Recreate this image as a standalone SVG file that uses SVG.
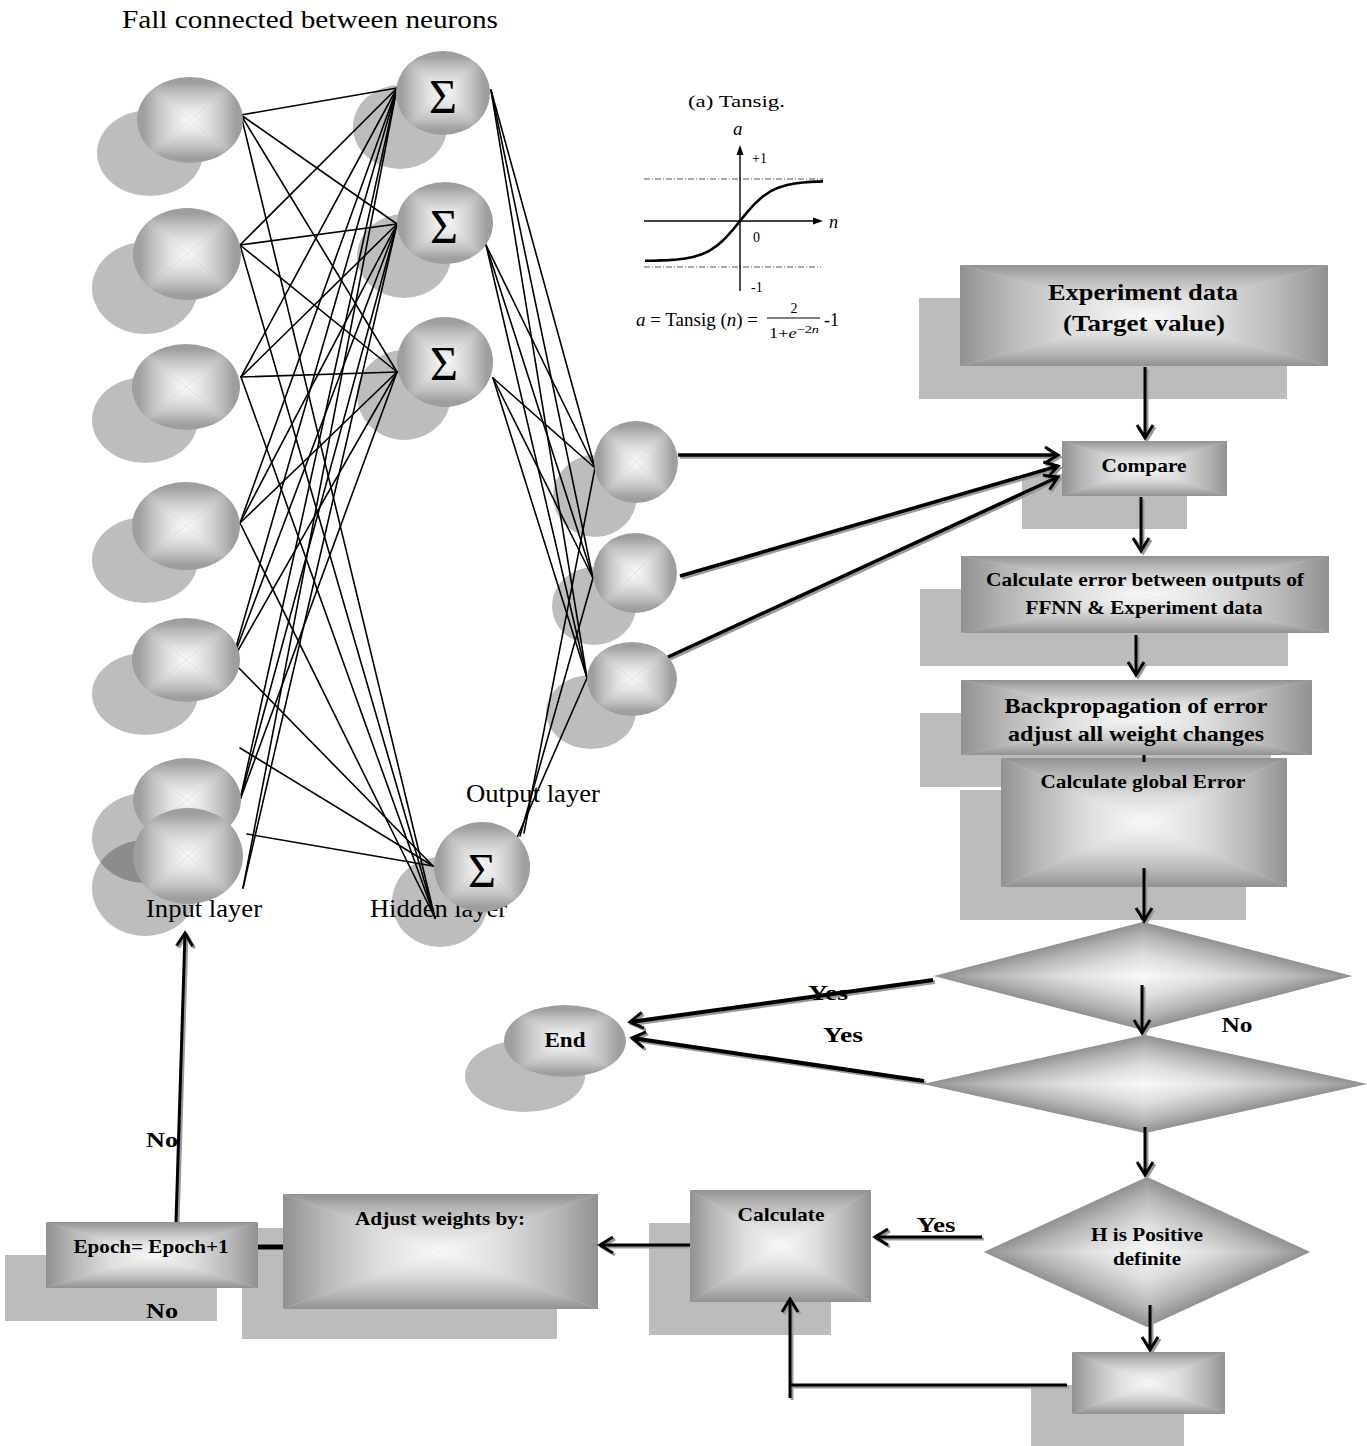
<svg xmlns="http://www.w3.org/2000/svg" width="1367" height="1446" viewBox="0 0 1367 1446">
<style>
.t{font-family:"Liberation Serif","Times New Roman",serif;fill:#000}
.b{font-weight:bold}
.sh{fill:#000;fill-opacity:.26}
.bs{fill:#bcbcbc}
.net line{stroke:#000;stroke-width:1.6;stroke-linecap:round}
.ar{stroke:#000;stroke-width:3;fill:none}
.as{stroke:#9a9a9a;stroke-width:3;fill:none}
.base{fill:#cfcfcf}
.sig{font-family:"Liberation Serif","Times New Roman",serif;font-size:48px;text-anchor:middle}
</style>
<defs>
<linearGradient id="gT" gradientUnits="userSpaceOnUse" x1="0" y1="-1" x2="0" y2="0">
<stop offset="0" stop-color="#919191"/><stop offset=".25" stop-color="#b6b6b6"/><stop offset=".6" stop-color="#dddddd"/><stop offset="1" stop-color="#f9f9f9"/>
</linearGradient>
<linearGradient id="gB" href="#gT" x1="0" y1="1" x2="0" y2="0"/>
<linearGradient id="gL" href="#gT" x1="-1" y1="0" x2="0" y2="0"/>
<linearGradient id="gR" href="#gT" x1="1" y1="0" x2="0" y2="0"/>
<g id="pq">
<polygon points="-1,-1 1,-1 0,0" fill="url(#gT)"/>
<polygon points="-1,1 1,1 0,0" fill="url(#gB)"/>
<polygon points="-1,-1 -1,1 0,0" fill="url(#gL)"/>
<polygon points="1,-1 1,1 0,0" fill="url(#gR)"/>
</g>
<linearGradient id="eT" gradientUnits="userSpaceOnUse" x1="0" y1="-1" x2="0" y2="0">
<stop offset="0" stop-color="#9e9e9e"/><stop offset=".3" stop-color="#c2c2c2"/><stop offset=".65" stop-color="#e2e2e2"/><stop offset="1" stop-color="#fafafa"/>
</linearGradient>
<linearGradient id="eB" href="#eT" x1="0" y1="1" x2="0" y2="0"/>
<linearGradient id="eL" href="#eT" x1="-1" y1="0" x2="0" y2="0"/>
<linearGradient id="eR" href="#eT" x1="1" y1="0" x2="0" y2="0"/>
<g id="eq">
<polygon points="-1,-1 1,-1 0,0" fill="url(#eT)"/>
<polygon points="-1,1 1,1 0,0" fill="url(#eB)"/>
<polygon points="-1,-1 -1,1 0,0" fill="url(#eL)"/>
<polygon points="1,-1 1,1 0,0" fill="url(#eR)"/>
</g>
<clipPath id="uc"><circle r="1"/></clipPath>
<g id="pe"><circle r="1" fill="#9e9e9e"/><g clip-path="url(#uc)"><use href="#eq" transform="scale(.88)"/></g></g>
<marker id="ah" viewBox="-16 -10 20 20" refX="0" refY="0" markerWidth="20" markerHeight="20" markerUnits="userSpaceOnUse" orient="auto"><path d="M-13,-8 L0,0 L-13,8" fill="none" stroke="#000" stroke-width="3"/></marker>
<marker id="ahs" viewBox="-16 -10 20 20" refX="0" refY="0" markerWidth="20" markerHeight="20" markerUnits="userSpaceOnUse" orient="auto"><path d="M-13,-8 L0,0 L-13,8" fill="none" stroke="#9a9a9a" stroke-width="3"/></marker>
</defs>

<text class="t" x="122" y="28" font-size="26" textLength="376" lengthAdjust="spacingAndGlyphs">Fall connected between neurons</text>

<g id="shadows">
<ellipse class="sh" cx="150" cy="153" rx="53" ry="43"/>
<ellipse class="sh" cx="145" cy="288" rx="53" ry="46"/>
<ellipse class="sh" cx="145" cy="420" rx="53" ry="43"/>
<ellipse class="sh" cx="145" cy="560" rx="53" ry="43"/>
<ellipse class="sh" cx="145" cy="694" rx="53" ry="41"/>
<ellipse class="sh" cx="145" cy="838" rx="53" ry="45"/>
<ellipse class="sh" cx="145" cy="888" rx="53" ry="48"/>
<ellipse class="sh" cx="400" cy="127" rx="47" ry="42"/>
<ellipse class="sh" cx="404" cy="256" rx="47" ry="42"/>
<ellipse class="sh" cx="404" cy="395" rx="47" ry="45"/>
<ellipse class="sh" cx="440" cy="902" rx="48" ry="45"/>
<ellipse class="sh" cx="595" cy="496" rx="42" ry="41"/>
<ellipse class="sh" cx="594" cy="606" rx="42" ry="39"/>
<ellipse class="sh" cx="591" cy="712" rx="45" ry="37"/>
</g>

<text class="t" x="370" y="917" font-size="25" textLength="137" lengthAdjust="spacingAndGlyphs">Hidden layer</text>
<text class="t" x="466" y="802" font-size="25" textLength="134" lengthAdjust="spacingAndGlyphs">Output layer</text>

<g id="tansig">
<text class="t" x="688" y="107" font-size="17" textLength="97" lengthAdjust="spacingAndGlyphs">(a) Tansig.</text>
<text class="t" x="733" y="135" font-size="19" font-style="italic">a</text>
<line x1="644" y1="179" x2="823" y2="179" stroke="#555" stroke-width="1" stroke-dasharray="6,2,1,2"/>
<line x1="644" y1="267" x2="821" y2="267" stroke="#555" stroke-width="1" stroke-dasharray="6,2,1,2"/>
<line x1="740" y1="152" x2="740" y2="291" stroke="#000" stroke-width="1.4"/>
<polygon points="740,145 736.5,155 743.5,155" fill="#000"/>
<line x1="644" y1="221" x2="815" y2="221" stroke="#000" stroke-width="1.4"/>
<polygon points="823,221 813,217.5 813,224.5" fill="#000"/>
<text class="t" x="752" y="163" font-size="14">+1</text>
<text class="t" x="829" y="228" font-size="18" font-style="italic">n</text>
<text class="t" x="753" y="242" font-size="14">0</text>
<text class="t" x="751" y="292" font-size="14">-1</text>
<polyline fill="none" stroke="#000" stroke-width="2.6" stroke-linejoin="round" points="645,260.8 653,260.7 661,260.4 669,260.1 677,259.5 685,258.5 693,257 701,254.6 709,251 717,245.7 725,238.5 733,229.6 740,221 747,212.4 755,203.5 763,196.3 771,191 779,187.4 787,185 795,183.5 803,182.5 811,181.9 823,181.4"/>
<text class="t" x="636" y="326" font-size="18" textLength="122" lengthAdjust="spacingAndGlyphs"><tspan font-style="italic">a</tspan> = Tansig (<tspan font-style="italic">n</tspan>) =</text>
<text class="t" x="794" y="313" font-size="14" text-anchor="middle">2</text>
<line x1="767" y1="318" x2="820" y2="318" stroke="#000" stroke-width="1"/>
<text class="t" x="769" y="338" font-size="14" textLength="50" lengthAdjust="spacingAndGlyphs">1+<tspan font-style="italic">e</tspan><tspan font-size="11" dy="-5">−2<tspan font-style="italic">n</tspan></tspan></text>
<text class="t" x="824" y="326" font-size="18">-1</text>
</g>

<g id="net-connectors" class="net">
<line x1="241" y1="115" x2="397" y2="88"/>
<line x1="241" y1="115" x2="397" y2="224"/>
<line x1="241" y1="115" x2="397" y2="372"/>
<line x1="241" y1="115" x2="435" y2="918"/>
<line x1="240" y1="245" x2="397" y2="88"/>
<line x1="240" y1="245" x2="397" y2="224"/>
<line x1="240" y1="245" x2="397" y2="372"/>
<line x1="240" y1="245" x2="435" y2="918"/>
<line x1="241" y1="377" x2="397" y2="88"/>
<line x1="241" y1="377" x2="397" y2="224"/>
<line x1="241" y1="377" x2="397" y2="372"/>
<line x1="241" y1="377" x2="435" y2="918"/>
<line x1="240" y1="523" x2="397" y2="88"/>
<line x1="240" y1="523" x2="397" y2="224"/>
<line x1="240" y1="523" x2="397" y2="372"/>
<line x1="240" y1="523" x2="435" y2="918"/>
<line x1="232" y1="661" x2="397" y2="88"/>
<line x1="232" y1="661" x2="397" y2="224"/>
<line x1="232" y1="661" x2="397" y2="372"/>
<line x1="232" y1="661" x2="433" y2="866"/>
<line x1="240" y1="800" x2="397" y2="88"/>
<line x1="240" y1="800" x2="397" y2="224"/>
<line x1="240" y1="800" x2="397" y2="372"/>
<line x1="240" y1="748" x2="433" y2="866"/>
<line x1="247" y1="834" x2="433" y2="866"/>
<line x1="243" y1="888" x2="397" y2="88"/>
<line x1="243" y1="888" x2="397" y2="224"/>
<line x1="491" y1="90" x2="595" y2="468"/>
<line x1="491" y1="90" x2="593" y2="578"/>
<line x1="491" y1="90" x2="587" y2="678"/>
<line x1="486" y1="245" x2="595" y2="468"/>
<line x1="486" y1="245" x2="593" y2="578"/>
<line x1="486" y1="245" x2="587" y2="678"/>
<line x1="493" y1="378" x2="595" y2="468"/>
<line x1="493" y1="378" x2="593" y2="578"/>
<line x1="493" y1="378" x2="587" y2="678"/>
<line x1="516" y1="840" x2="587" y2="678"/>
<line x1="520" y1="836" x2="593" y2="578"/>
<line x1="524" y1="833" x2="595" y2="468"/>
</g>

<g id="in1"><use href="#pe" transform="translate(190,120) scale(53,43)"/></g>
<g id="in2"><use href="#pe" transform="translate(187,254) scale(54,46)"/></g>
<g id="in3"><use href="#pe" transform="translate(186,387) scale(54,43)"/></g>
<g id="in4"><use href="#pe" transform="translate(186,526) scale(54,44)"/></g>
<g id="in5"><use href="#pe" transform="translate(186,660) scale(54,42)"/></g>
<g id="in6"><use href="#pe" transform="translate(187,800) scale(54,42)"/></g>
<g id="in7"><use href="#pe" transform="translate(188,856) scale(55,48)"/></g>
<g id="h1"><use href="#pe" transform="translate(443,93) scale(47,42)"/><text class="sig" x="443" y="113">Σ</text></g>
<g id="h2"><use href="#pe" transform="translate(445,223) scale(48,41)"/><text class="sig" x="444" y="243">Σ</text></g>
<g id="h3"><use href="#pe" transform="translate(445,362) scale(48,45)"/><text class="sig" x="444" y="380">Σ</text></g>
<g id="h4"><use href="#pe" transform="translate(482,867) scale(48,45)"/><text class="sig" x="482" y="887">Σ</text></g>
<g id="o1"><use href="#pe" transform="translate(636,462) scale(42,41)"/></g>
<g id="o2"><use href="#pe" transform="translate(635,573) scale(42,40)"/></g>
<g id="o3"><use href="#pe" transform="translate(632,679) scale(45,37)"/></g>

<text class="t" x="146" y="917" font-size="25" textLength="116" lengthAdjust="spacingAndGlyphs">Input layer</text>

<g id="box-shadows">
<rect class="bs" x="919" y="298" width="368" height="101"/>
<rect class="bs" x="1022" y="474" width="165" height="55"/>
<rect class="bs" x="920" y="589" width="368" height="77"/>
<rect class="bs" x="920" y="713" width="351" height="74"/>
<rect class="bs" x="960" y="790" width="286" height="130"/>
<rect class="bs" x="1031" y="1385" width="153" height="61"/>
<rect class="bs" x="649" y="1223" width="182" height="112"/>
<rect class="bs" x="242" y="1228" width="315" height="111"/>
<rect class="bs" x="5" y="1255" width="212" height="66"/>
<ellipse class="bs" cx="525" cy="1076" rx="60" ry="36"/>
</g>

<g id="experiment"><rect class="base" x="960" y="265" width="368" height="101"/><use href="#pq" transform="translate(1144,315.5) scale(184,50.5)"/>
<text class="t b" x="1143" y="300" font-size="24" text-anchor="middle" textLength="190" lengthAdjust="spacingAndGlyphs">Experiment data</text>
<text class="t b" x="1144" y="331" font-size="24" text-anchor="middle" textLength="162" lengthAdjust="spacingAndGlyphs">(Target value)</text></g>

<g id="compare"><rect class="base" x="1062" y="441" width="165" height="55"/><use href="#pq" transform="translate(1144.5,468.5) scale(82.5,27.5)"/>
<text class="t b" x="1144" y="472" font-size="18" text-anchor="middle" textLength="85" lengthAdjust="spacingAndGlyphs">Compare</text></g>

<g id="calcerr"><rect class="base" x="961" y="556" width="368" height="77"/><use href="#pq" transform="translate(1145,594.5) scale(184,38.5)"/>
<text class="t b" x="1145" y="586" font-size="18" text-anchor="middle" textLength="318" lengthAdjust="spacingAndGlyphs">Calculate error between outputs of</text>
<text class="t b" x="1144" y="614" font-size="18" text-anchor="middle" textLength="237" lengthAdjust="spacingAndGlyphs">FFNN &amp; Experiment data</text></g>

<g id="backprop"><rect class="base" x="961" y="680" width="351" height="75"/><use href="#pq" transform="translate(1136.5,717.5) scale(175.5,37.5)"/>
<text class="t b" x="1136" y="713" font-size="21" text-anchor="middle" textLength="263" lengthAdjust="spacingAndGlyphs">Backpropagation of error</text>
<text class="t b" x="1136" y="741" font-size="21" text-anchor="middle" textLength="256" lengthAdjust="spacingAndGlyphs">adjust all weight changes</text></g>

<g id="globalerr"><rect class="base" x="1001" y="758" width="286" height="129"/><use href="#pq" transform="translate(1144,822.5) scale(143,64.5)"/>
<text class="t b" x="1143" y="788" font-size="18" text-anchor="middle" textLength="205" lengthAdjust="spacingAndGlyphs">Calculate global Error</text></g>

<g id="dec1"><polygon class="base" points="1143,922 1352,976 1143,1030 934,976"/><use href="#pq" transform="matrix(104.5,27,-104.5,27,1143,976)"/></g>
<g id="dec2"><polygon class="base" points="1145,1035 1367,1084 1145,1133 923,1084"/><use href="#pq" transform="matrix(111,24.5,-111,24.5,1145,1084)"/></g>
<g id="decH"><polygon class="base" points="1147,1177 1310,1252 1147,1327 984,1252"/><use href="#pq" transform="matrix(81.5,37.5,-81.5,37.5,1147,1252)"/>
<text class="t b" x="1147" y="1241" font-size="19" text-anchor="middle" textLength="112" lengthAdjust="spacingAndGlyphs">H is Positive</text>
<text class="t b" x="1147" y="1265" font-size="19" text-anchor="middle" textLength="68" lengthAdjust="spacingAndGlyphs">definite</text></g>

<g id="end"><use href="#pe" transform="translate(565,1041) scale(61,36)"/>
<text class="t b" x="565" y="1047" font-size="20" text-anchor="middle" textLength="41" lengthAdjust="spacingAndGlyphs">End</text></g>

<g id="smallbox"><rect class="base" x="1072" y="1352" width="153" height="62"/><use href="#pq" transform="translate(1148.5,1383) scale(76.5,31)"/></g>

<g id="calculate"><rect class="base" x="690" y="1190" width="181" height="112"/><use href="#pq" transform="translate(780.5,1246) scale(90.5,56)"/>
<text class="t b" x="781" y="1221" font-size="19" text-anchor="middle" textLength="87" lengthAdjust="spacingAndGlyphs">Calculate</text></g>

<g id="adjust"><rect class="base" x="283" y="1194" width="315" height="115"/><use href="#pq" transform="translate(440.5,1251.5) scale(157.5,57.5)"/>
<text class="t b" x="440" y="1225" font-size="18" text-anchor="middle" textLength="170" lengthAdjust="spacingAndGlyphs">Adjust weights by:</text></g>

<g id="epoch"><rect class="base" x="46" y="1222" width="212" height="66"/><use href="#pq" transform="translate(152,1255) scale(106,33)"/>
<text class="t b" x="151" y="1253" font-size="18" text-anchor="middle" textLength="155" lengthAdjust="spacingAndGlyphs">Epoch= Epoch+1</text></g>

<g id="connectors">
<g transform="translate(2,2)">
<path class="as" marker-end="url(#ahs)" d="M1145,367 L1145,438"/>
<path class="as" marker-end="url(#ahs)" d="M1141,497 L1141,551"/>
<path class="as" marker-end="url(#ahs)" d="M1136,635 L1136,675"/>
<path class="as" marker-end="url(#ahs)" d="M1144,868 L1144,921"/>
<path class="as" marker-end="url(#ahs)" d="M1142,985 L1142,1033"/>
<path class="as" marker-end="url(#ahs)" d="M1145,1127 L1145,1175"/>
<path class="as" marker-end="url(#ahs)" d="M1150,1305 L1150,1350"/>
<path class="as" d="M1067,1385 L790,1385"/>
<path class="as" marker-end="url(#ahs)" d="M790,1398 L790,1299"/>
<path class="as" marker-end="url(#ahs)" d="M982,1237 L875,1237"/>
<path class="as" marker-end="url(#ahs)" d="M690,1245 L600,1245"/>
<path class="as" marker-end="url(#ahs)" d="M176,1222 L185,933"/>
<path class="as" style="stroke-width:4" marker-end="url(#ahs)" d="M933,980 L630,1022"/>
<path class="as" style="stroke-width:4" marker-end="url(#ahs)" d="M924,1081 L632,1038"/>
<path class="as" style="stroke-width:3.5" marker-end="url(#ahs)" d="M678,455 L1058,455"/>
<path class="as" style="stroke-width:3.5" marker-end="url(#ahs)" d="M680,576 L1058,466"/>
<path class="as" style="stroke-width:3.5" marker-end="url(#ahs)" d="M668,657 L1058,477"/>
</g>
<path class="ar" marker-end="url(#ah)" d="M1145,367 L1145,438"/>
<path class="ar" marker-end="url(#ah)" d="M1141,497 L1141,551"/>
<path class="ar" marker-end="url(#ah)" d="M1136,635 L1136,675"/>
<path class="ar" d="M1144,755 L1144,762"/>
<path class="ar" marker-end="url(#ah)" d="M1144,868 L1144,921"/>
<path class="ar" marker-end="url(#ah)" d="M1142,985 L1142,1033"/>
<path class="ar" marker-end="url(#ah)" d="M1145,1127 L1145,1175"/>
<path class="ar" marker-end="url(#ah)" d="M1150,1305 L1150,1350"/>
<path class="ar" d="M1067,1385 L790,1385"/>
<path class="ar" marker-end="url(#ah)" d="M790,1398 L790,1299"/>
<path class="ar" marker-end="url(#ah)" d="M982,1237 L875,1237"/>
<path class="ar" marker-end="url(#ah)" d="M690,1245 L600,1245"/>
<path class="ar" style="stroke-width:5" d="M258,1247 L283,1247"/>
<path class="ar" marker-end="url(#ah)" d="M176,1222 L185,933"/>
<path class="ar" style="stroke-width:4" marker-end="url(#ah)" d="M933,980 L630,1022"/>
<path class="ar" style="stroke-width:4" marker-end="url(#ah)" d="M924,1081 L632,1038"/>
<path class="ar" style="stroke-width:3.5" marker-end="url(#ah)" d="M678,455 L1058,455"/>
<path class="ar" style="stroke-width:3.5" marker-end="url(#ah)" d="M680,576 L1058,466"/>
<path class="ar" style="stroke-width:3.5" marker-end="url(#ah)" d="M668,657 L1058,477"/>
</g>

<g id="labels">
<text class="t b" x="828" y="1000" font-size="22" text-anchor="middle" textLength="40" lengthAdjust="spacingAndGlyphs">Yes</text>
<text class="t b" x="843" y="1042" font-size="22" text-anchor="middle" textLength="40" lengthAdjust="spacingAndGlyphs">Yes</text>
<text class="t b" x="1237" y="1032" font-size="22" text-anchor="middle" textLength="31" lengthAdjust="spacingAndGlyphs">No</text>
<text class="t b" x="936" y="1232" font-size="22" text-anchor="middle" textLength="39" lengthAdjust="spacingAndGlyphs">Yes</text>
<text class="t b" x="162" y="1147" font-size="22" text-anchor="middle" textLength="32" lengthAdjust="spacingAndGlyphs">No</text>
<text class="t b" x="162" y="1318" font-size="22" text-anchor="middle" textLength="32" lengthAdjust="spacingAndGlyphs">No</text>
</g>
</svg>
